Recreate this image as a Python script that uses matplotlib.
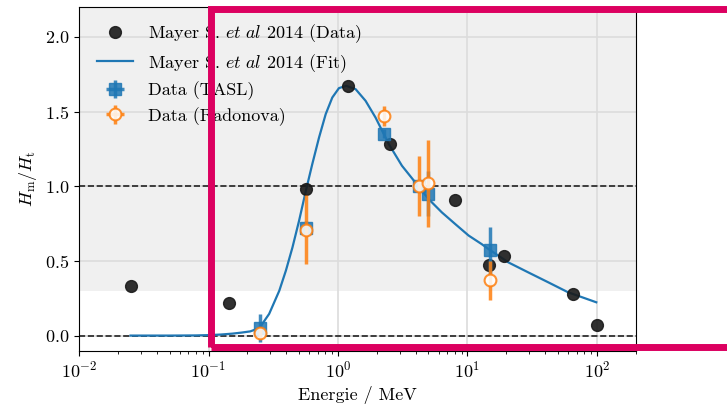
import matplotlib
matplotlib.use("Agg")
import matplotlib.pyplot as plt
from matplotlib.patches import Rectangle
import numpy as np

plt.rcParams['font.family'] = 'serif'
plt.rcParams['font.serif'] = ['cmr10']
plt.rcParams['mathtext.fontset'] = 'cm'
plt.rcParams['axes.formatter.use_mathtext'] = True

# Mayer S. et al 2014 data points
mayer_e = [0.025, 0.144, 0.565, 1.2, 2.5, 8.0, 14.8, 19.0, 65, 100]
mayer_h = [0.33, 0.22, 0.98, 1.67, 1.28, 0.91, 0.47, 0.53, 0.28, 0.07]

# fit curve
fit_e = [0.025, 0.05, 0.08, 0.1, 0.125, 0.153, 0.18, 0.21, 0.247, 0.294,
         0.352, 0.396, 0.445, 0.501, 0.565, 0.634, 0.714, 0.804, 0.904,
         1.018, 1.158, 1.368, 1.633, 1.95, 2.47, 3.12, 3.96, 5.01, 6.34,
         8.04, 10.2, 12.9, 14.5, 20.7, 29.5, 42, 59.8, 98.8]
fit_h = [0.0, 0.0, 0.001, 0.003, 0.007, 0.013, 0.02, 0.028, 0.05, 0.145,
         0.30, 0.435, 0.59, 0.77, 0.97, 1.15, 1.326, 1.483, 1.594,
         1.657, 1.672, 1.65, 1.572, 1.46, 1.282, 1.137, 1.025, 0.914, 0.825,
         0.747, 0.67, 0.612, 0.58, 0.49, 0.423, 0.357, 0.29, 0.223]

# TASL
tasl_e = [0.25, 0.565, 2.25, 4.2, 5.0, 15]
tasl_h = [0.05, 0.72, 1.35, 1.0, 0.95, 0.57]
tasl_err = [0.095, 0.05, 0.03, 0.04, 0.15, 0.16]

# Radonova
rado_e = [0.25, 0.565, 2.25, 4.2, 5.0, 15]
rado_h = [0.02, 0.71, 1.47, 1.0, 1.02, 0.37]
rado_err = [0.04, 0.23, 0.065, 0.2, 0.29, 0.13]

fig = plt.figure(figsize=(7.27, 4.07), dpi=100)
ax = fig.add_axes([0.1087, 0.1388, 0.766, 0.844])

ax.axhspan(0.3, 2.5, color='#f0f0f0', zorder=0, lw=0)
ax.grid(True, which='major', color='#dcdcdc', lw=1.2)
ax.set_axisbelow(True)
ax.axhline(0, color='#222222', ls='--', lw=1.2, zorder=1)
ax.axhline(1, color='#222222', ls='--', lw=1.2, zorder=1)

ax.plot(mayer_e, mayer_h, 'o', color='#1a1a1a', ms=8.5, alpha=0.9,
        label=r'Mayer S. $\mathit{et\ al}$ 2014 (Data)', zorder=3)
ax.plot(fit_e, fit_h, '-', color='#1f77b4', lw=1.6,
        label=r'Mayer S. $\mathit{et\ al}$ 2014 (Fit)', zorder=2)
ax.errorbar(tasl_e, tasl_h, yerr=tasl_err, xerr=np.zeros(len(tasl_e)),
            fmt='s', color='#1f77b4', ms=9, elinewidth=2.5, alpha=0.85,
            label='Data (TASL)', zorder=4)
ax.errorbar(rado_e, rado_h, yerr=rado_err, xerr=np.zeros(len(rado_e)),
            fmt='o', color='#ff7f0e', mfc=(1, 1, 1, 0.8), mec='#ff7f0e',
            ms=8.5, mew=1.5, elinewidth=2.5, alpha=0.85,
            label='Data (Radonova)', zorder=5)

ax.set_xscale('log')
ax.set_xlim(0.01, 200)
ax.set_ylim(-0.1, 2.2)
ax.set_yticks([0.0, 0.5, 1.0, 1.5, 2.0])
ax.tick_params(labelsize=13)
ax.set_xlabel('Energie / MeV', fontsize=13)
ax.set_ylabel(r'$H_\mathrm{m}/H_\mathrm{t}$', fontsize=13)

ax.legend(loc='upper left', frameon=False, fontsize=13, labelspacing=0.38,
          bbox_to_anchor=(0.003, 1.003))

# highlight box
fig.add_artist(Rectangle((210.5 / 727, 1 - 346.7 / 407), 1.0, (346.7 - 8.5) / 407,
                         transform=fig.transFigure, fill=False,
                         ec='#dc0060', lw=5, clip_on=False, zorder=10))

fig.savefig('out.png', dpi=100)
